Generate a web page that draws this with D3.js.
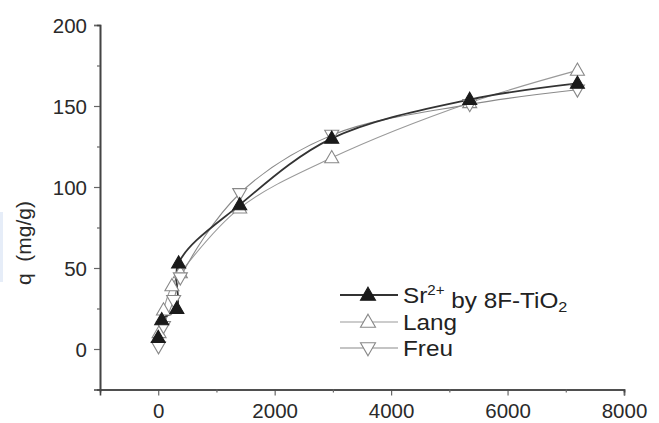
<!DOCTYPE html>
<html><head><meta charset="utf-8">
<script src="https://cdn.jsdelivr.net/npm/d3@7"></script>
<style>
html,body{margin:0;padding:0;background:#fff;}
svg{display:block;font-family:"Liberation Sans",Arial,sans-serif;}
</style></head>
<body><svg id="c" width="659" height="423"></svg>
<script>
// ---- data ----
const seriesNames = ["Sr2+ by 8F-TiO2", "Lang", "Freu"];
const srX   = [0, 60, 320, 350, 1400, 2980, 5350, 7200];
const srY   = [7, 18, 25, 53, 89, 130, 154, 164];
const langX = [15, 90, 235, 380, 1400, 2980, 5350, 7200];
const langY = [10, 24, 39, 47, 87, 118, 152, 172];
const freuX = [5, 90, 265, 380, 1400, 2980, 5350, 7200];
const freuY = [1.5, 14, 30, 44, 96, 132, 151, 160];
const xTicks = [0, 2000, 4000, 6000, 8000];
const xMinor = [1000, 3000, 5000, 7000];
const yTicks = [0, 50, 100, 150, 200];
const yMinor = [25, 75, 125, 175];
const yTitle = "q  (mg/g)";

const svg = d3.select("#c");
// faint scan artifact at left edge
svg.append("rect").attr("x",0).attr("y",212).attr("width",3).attr("height",70).attr("fill","#e6edf8");

const x = d3.scaleLinear().domain([-1000, 8000]).range([100, 624]);
const y = d3.scaleLinear().domain([-25, 200]).range([389.5, 25]);

const fontSize = 20.5;
const axisColor = "#444";

// axes
const gx = svg.append("g").attr("transform", `translate(0,${y(-25)})`)
  .call(d3.axisBottom(x).tickValues(xTicks).tickSize(6).tickPadding(5).tickFormat(d3.format("d")));
const gxm = svg.append("g").attr("transform", `translate(0,${y(-25)})`)
  .call(d3.axisBottom(x).tickValues(xMinor).tickSize(3).tickFormat(""));
const gy = svg.append("g").attr("transform", `translate(${x(-1000)},0)`)
  .call(d3.axisLeft(y).tickValues(yTicks).tickSize(6).tickPadding(7).tickFormat(d3.format("d")));
const gym = svg.append("g").attr("transform", `translate(${x(-1000)},0)`)
  .call(d3.axisLeft(y).tickValues(yMinor).tickSize(3).tickFormat(""));
[gx,gxm,gy,gym].forEach(g=>{
  g.select(".domain").attr("stroke",axisColor).attr("stroke-width",1.6);
  g.selectAll(".tick line").attr("stroke","#666").attr("stroke-width",1.2);
  g.selectAll("text").attr("font-size",fontSize).attr("fill","#2a2a2a")
   .attr("font-family","Liberation Sans, Arial, sans-serif");
});
gx.selectAll("text").attr("dy","0.85em");
gy.selectAll("text").attr("dy","0.36em");

svg.append("text").attr("transform",`translate(31,${243}) rotate(-90)`)
  .attr("text-anchor","middle").attr("font-size",21).attr("fill","#2a2a2a")
  .style("white-space","pre").text(yTitle);

// lines
const mk = (xs, ys) => xs.map((v,i)=>[v, ys[i]]);
const line = d3.line().x(d=>x(d[0])).y(d=>y(d[1])).curve(d3.curveCatmullRom.alpha(0.5));
const series = [
  {name: seriesNames[0], data: mk(srX, srY),   stroke:"#333", sw:1.8, sym:"up",   fill:"#1a1a1a", mstroke:"#1a1a1a"},
  {name: seriesNames[1], data: mk(langX, langY), stroke:"#9a9a9a", sw:1.1, sym:"up",   fill:"#fff", mstroke:"#888"},
  {name: seriesNames[2], data: mk(freuX, freuY), stroke:"#8a8a8a", sw:1.1, sym:"down", fill:"#fff", mstroke:"#888"}
];
const tri = (cx, cy, dir, s) => {
  const h = s*0.87;
  if (dir==="up") return `M${cx},${cy-h*0.6}L${cx+s/2},${cy+h*0.4}L${cx-s/2},${cy+h*0.4}Z`;
  return `M${cx},${cy+h*0.6}L${cx+s/2},${cy-h*0.4}L${cx-s/2},${cy-h*0.4}Z`;
};
[series[1], series[2], series[0]].forEach(s=>{
  svg.append("path").attr("d", line(s.data)).attr("fill","none")
    .attr("stroke", s.stroke).attr("stroke-width", s.sw);
});
[series[1], series[2], series[0]].forEach(s=>{
  svg.append("g").selectAll("path").data(s.data).join("path")
    .attr("d", d=>tri(x(d[0]), y(d[1]), s.sym, 14))
    .attr("fill", s.fill).attr("stroke", s.mstroke).attr("stroke-width", 1.1);
});

// legend
const legY = [295, 322, 348];
series.forEach((s,i)=>{
  const g = svg.append("g");
  g.append("line").attr("x1",340).attr("x2",398).attr("y1",legY[i]).attr("y2",legY[i])
    .attr("stroke", s.stroke).attr("stroke-width", s.sw);
  g.append("path").attr("d", tri(368, legY[i], s.sym, 15))
    .attr("fill", s.fill).attr("stroke", s.mstroke).attr("stroke-width",1.1);
  const t = g.append("text").attr("transform",`translate(403,${legY[i]}) scale(1.08,1)`)
    .attr("dy","0.36em").attr("font-size",22.5).attr("fill","#222");
  if (i===0) {
    t.append("tspan").text("Sr");
    t.append("tspan").attr("font-size",14).attr("dy","-0.6em").text("2+");
    t.append("tspan").attr("dy","0.6em").text(" by 8F-TiO");
    t.append("tspan").attr("font-size",15).attr("dy","0.25em").text("2");
  } else {
    t.text(s.name);
  }
});
</script></body></html>
